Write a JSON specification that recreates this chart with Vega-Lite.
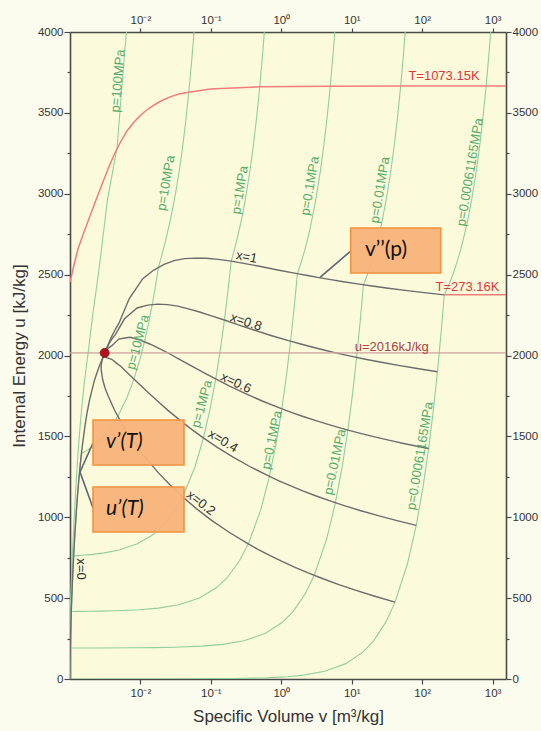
{
  "$schema": "https://vega.github.io/schema/vega-lite/v6.json",
  "width": 436,
  "height": 647,
  "autosize": "none",
  "padding": {"left": 70, "top": 32, "right": 35, "bottom": 52},
  "background": "#fcfcee",
  "config": {
    "font": "Liberation Sans",
    "view": {"fill": "#fbfadb", "stroke": null},
    "axis": {
      "domainColor": "#4a4a4a", "domainWidth": 1.6,
      "tickColor": "#4a4a4a", "tickWidth": 1.2,
      "labelColor": "#333333", "titleColor": "#333333",
      "labelFont": "Liberation Sans", "titleFont": "Liberation Sans",
      "labelFontSize": 11.5, "titleFontSize": 17, "titleFontWeight": "normal",
      "grid": false
    }
  },
  "datasets": {
    "curves": [
      {"c":"p100","k":"iso","v":0.000957,"u":0},{"c":"p100","k":"iso","v":0.000973,"u":200},{"c":"p100","k":"iso","v":0.001002,"u":400},{"c":"p100","k":"iso","v":0.00104,"u":600},{"c":"p100","k":"iso","v":0.00109,"u":800},{"c":"p100","k":"iso","v":0.00115,"u":1005},{"c":"p100","k":"iso","v":0.00122,"u":1210},{"c":"p100","k":"iso","v":0.00131,"u":1418},{"c":"p100","k":"iso","v":0.00143,"u":1627},{"c":"p100","k":"iso","v":0.0016,"u":1836},{"c":"p100","k":"iso","v":0.00183,"u":2034},{"c":"p100","k":"iso","v":0.0021,"u":2250},{"c":"p100","k":"iso","v":0.00246,"u":2467},{"c":"p100","k":"iso","v":0.00268,"u":2590},{"c":"p100","k":"iso","v":0.0034,"u":2961},{"c":"p100","k":"iso","v":0.00468,"u":3291},{"c":"p100","k":"iso","v":0.0054,"u":3640},{"c":"p100","k":"iso","v":0.00633,"u":4000},{"c":"p100","k":"iso","v":0.0066,"u":4150},

      {"c":"p10","k":"iso","v":0.000995,"u":0},{"c":"p10","k":"iso","v":0.000997,"u":83},{"c":"p10","k":"iso","v":0.001003,"u":166},{"c":"p10","k":"iso","v":0.001013,"u":250},{"c":"p10","k":"iso","v":0.001025,"u":333},{"c":"p10","k":"iso","v":0.001039,"u":416},{"c":"p10","k":"iso","v":0.001074,"u":583},{"c":"p10","k":"iso","v":0.00112,"u":754},{"c":"p10","k":"iso","v":0.001148,"u":841},{"c":"p10","k":"iso","v":0.001181,"u":930},{"c":"p10","k":"iso","v":0.001265,"u":1117},{"c":"p10","k":"iso","v":0.001322,"u":1218},{"c":"p10","k":"iso","v":0.001397,"u":1328},{"c":"p10","k":"iso","v":0.001453,"u":1393.3},{"c":"p10","k":"iso","v":0.001619,"u":1404.8},{"c":"p10","k":"iso","v":0.001785,"u":1416.3},{"c":"p10","k":"iso","v":0.00195,"u":1427.9},{"c":"p10","k":"iso","v":0.002282,"u":1450.9},{"c":"p10","k":"iso","v":0.003111,"u":1508.5},{"c":"p10","k":"iso","v":0.004768,"u":1623.7},{"c":"p10","k":"iso","v":0.006426,"u":1738.9},{"c":"p10","k":"iso","v":0.008083,"u":1854.1},{"c":"p10","k":"iso","v":0.009741,"u":1969.3},{"c":"p10","k":"iso","v":0.011398,"u":2084.4},{"c":"p10","k":"iso","v":0.013056,"u":2199.6},{"c":"p10","k":"iso","v":0.014713,"u":2314.8},{"c":"p10","k":"iso","v":0.016371,"u":2430},{"c":"p10","k":"iso","v":0.018028,"u":2545.2},{"c":"p10","k":"iso","v":0.019877,"u":2611.6},{"c":"p10","k":"iso","v":0.02244,"u":2699.6},{"c":"p10","k":"iso","v":0.026436,"u":2833.1},{"c":"p10","k":"iso","v":0.029782,"u":2944.5},{"c":"p10","k":"iso","v":0.032811,"u":3047},{"c":"p10","k":"iso","v":0.035655,"u":3145.4},{"c":"p10","k":"iso","v":0.038378,"u":3242},{"c":"p10","k":"iso","v":0.041018,"u":3338},{"c":"p10","k":"iso","v":0.043597,"u":3434},{"c":"p10","k":"iso","v":0.048629,"u":3628.2},{"c":"p10","k":"iso","v":0.053547,"u":3826.5},{"c":"p10","k":"iso","v":0.058391,"u":4029.9},

      {"c":"p1","k":"iso","v":0.0009997,"u":0},{"c":"p1","k":"iso","v":0.001001,"u":84},{"c":"p1","k":"iso","v":0.001007,"u":167.5},{"c":"p1","k":"iso","v":0.001017,"u":251.1},{"c":"p1","k":"iso","v":0.001029,"u":334.9},{"c":"p1","k":"iso","v":0.001043,"u":419},{"c":"p1","k":"iso","v":0.00106,"u":503.5},{"c":"p1","k":"iso","v":0.00108,"u":588.7},{"c":"p1","k":"iso","v":0.001102,"u":674.6},{"c":"p1","k":"iso","v":0.001127,"u":761.4},{"c":"p1","k":"iso","v":0.001513,"u":765},{"c":"p1","k":"iso","v":0.002093,"u":770.5},{"c":"p1","k":"iso","v":0.003059,"u":779.6},{"c":"p1","k":"iso","v":0.004992,"u":797.8},{"c":"p1","k":"iso","v":0.008856,"u":834.3},{"c":"p1","k":"iso","v":0.014653,"u":888.9},{"c":"p1","k":"iso","v":0.02045,"u":943.5},{"c":"p1","k":"iso","v":0.030112,"u":1034.6},{"c":"p1","k":"iso","v":0.039774,"u":1125.7},{"c":"p1","k":"iso","v":0.059097,"u":1307.8},{"c":"p1","k":"iso","v":0.07842,"u":1490},{"c":"p1","k":"iso","v":0.097744,"u":1672.1},{"c":"p1","k":"iso","v":0.117067,"u":1854.2},{"c":"p1","k":"iso","v":0.13639,"u":2036.4},{"c":"p1","k":"iso","v":0.155713,"u":2218.5},{"c":"p1","k":"iso","v":0.175037,"u":2400.7},{"c":"p1","k":"iso","v":0.19436,"u":2582.8},{"c":"p1","k":"iso","v":0.20602,"u":2622.3},{"c":"p1","k":"iso","v":0.23275,"u":2710.4},{"c":"p1","k":"iso","v":0.25799,"u":2793.7},{"c":"p1","k":"iso","v":0.2825,"u":2875.7},{"c":"p1","k":"iso","v":0.30661,"u":2957.9},{"c":"p1","k":"iso","v":0.35411,"u":3125},{"c":"p1","k":"iso","v":0.40111,"u":3297.5},{"c":"p1","k":"iso","v":0.44783,"u":3476.3},{"c":"p1","k":"iso","v":0.49438,"u":3661.7},{"c":"p1","k":"iso","v":0.54083,"u":3853.9},{"c":"p1","k":"iso","v":0.58721,"u":4052.7},

      {"c":"p01","k":"iso","v":0.001,"u":0},{"c":"p01","k":"iso","v":0.001002,"u":84},{"c":"p01","k":"iso","v":0.001008,"u":167.5},{"c":"p01","k":"iso","v":0.001017,"u":251.1},{"c":"p01","k":"iso","v":0.001029,"u":334.9},{"c":"p01","k":"iso","v":0.001043,"u":417.4},{"c":"p01","k":"iso","v":0.001382,"u":417.8},{"c":"p01","k":"iso","v":0.00189,"u":418.4},{"c":"p01","k":"iso","v":0.002736,"u":419.5},{"c":"p01","k":"iso","v":0.004429,"u":421.6},{"c":"p01","k":"iso","v":0.009508,"u":427.8},{"c":"p01","k":"iso","v":0.017974,"u":438.3},{"c":"p01","k":"iso","v":0.034904,"u":459.2},{"c":"p01","k":"iso","v":0.068765,"u":500.9},{"c":"p01","k":"iso","v":0.119557,"u":563.6},{"c":"p01","k":"iso","v":0.170349,"u":626.2},{"c":"p01","k":"iso","v":0.255002,"u":730.6},{"c":"p01","k":"iso","v":0.339654,"u":835},{"c":"p01","k":"iso","v":0.50896,"u":1043.9},{"c":"p01","k":"iso","v":0.678266,"u":1252.7},{"c":"p01","k":"iso","v":0.847572,"u":1461.5},{"c":"p01","k":"iso","v":1.016877,"u":1670.3},{"c":"p01","k":"iso","v":1.186183,"u":1879.1},{"c":"p01","k":"iso","v":1.355489,"u":2088},{"c":"p01","k":"iso","v":1.524794,"u":2296.8},{"c":"p01","k":"iso","v":1.6941,"u":2505.6},{"c":"p01","k":"iso","v":1.9367,"u":2582.9},{"c":"p01","k":"iso","v":2.1724,"u":2658.2},{"c":"p01","k":"iso","v":2.4062,"u":2733.9},{"c":"p01","k":"iso","v":2.6389,"u":2810.7},{"c":"p01","k":"iso","v":3.1027,"u":2968.3},{"c":"p01","k":"iso","v":3.5655,"u":3132.2},{"c":"p01","k":"iso","v":4.0279,"u":3302.8},{"c":"p01","k":"iso","v":4.49,"u":3480.4},{"c":"p01","k":"iso","v":4.9522,"u":3665},{"c":"p01","k":"iso","v":5.4142,"u":3856.7},{"c":"p01","k":"iso","v":5.8762,"u":4055},

      {"c":"p001","k":"iso","v":0.001,"u":0},{"c":"p001","k":"iso","v":0.001002,"u":84},{"c":"p001","k":"iso","v":0.001008,"u":167.5},{"c":"p001","k":"iso","v":0.00101,"u":191.8},{"c":"p001","k":"iso","v":0.001303,"u":191.8},{"c":"p001","k":"iso","v":0.002477,"u":192},{"c":"p001","k":"iso","v":0.008344,"u":192.9},{"c":"p001","k":"iso","v":0.015679,"u":194},{"c":"p001","k":"iso","v":0.030348,"u":196.3},{"c":"p001","k":"iso","v":0.074355,"u":203},{"c":"p001","k":"iso","v":0.1477,"u":214.2},{"c":"p001","k":"iso","v":0.29439,"u":236.7},{"c":"p001","k":"iso","v":0.58777,"u":281.6},{"c":"p001","k":"iso","v":1.027839,"u":349},{"c":"p001","k":"iso","v":1.467909,"u":416.3},{"c":"p001","k":"iso","v":2.201359,"u":528.6},{"c":"p001","k":"iso","v":2.934808,"u":640.9},{"c":"p001","k":"iso","v":4.401707,"u":865.4},{"c":"p001","k":"iso","v":5.868606,"u":1089.9},{"c":"p001","k":"iso","v":7.335505,"u":1314.5},{"c":"p001","k":"iso","v":8.802404,"u":1539},{"c":"p001","k":"iso","v":10.269303,"u":1763.6},{"c":"p001","k":"iso","v":11.736202,"u":1988.1},{"c":"p001","k":"iso","v":13.203101,"u":2212.7},{"c":"p001","k":"iso","v":14.67,"u":2437.2},{"c":"p001","k":"iso","v":14.867,"u":2443.3},{"c":"p001","k":"iso","v":17.196,"u":2515.5},{"c":"p001","k":"iso","v":19.513,"u":2587.9},{"c":"p001","k":"iso","v":21.826,"u":2661.4},{"c":"p001","k":"iso","v":24.136,"u":2736.1},{"c":"p001","k":"iso","v":26.446,"u":2812.3},{"c":"p001","k":"iso","v":31.063,"u":2969.3},{"c":"p001","k":"iso","v":35.68,"u":3132.9},{"c":"p001","k":"iso","v":40.296,"u":3303.3},{"c":"p001","k":"iso","v":44.911,"u":3480.8},{"c":"p001","k":"iso","v":49.527,"u":3665.4},{"c":"p001","k":"iso","v":54.143,"u":3856.9},{"c":"p001","k":"iso","v":58.758,"u":4055.3},

      {"c":"ptp","k":"iso","v":0.001,"u":0},{"c":"ptp","k":"iso","v":0.00306,"u":0.02},{"c":"ptp","k":"iso","v":0.0216,"u":0.24},{"c":"ptp","k":"iso","v":0.207,"u":2.37},{"c":"ptp","k":"iso","v":0.619,"u":7.12},{"c":"ptp","k":"iso","v":1.2369,"u":14.25},{"c":"ptp","k":"iso","v":2.0609,"u":23.75},{"c":"ptp","k":"iso","v":4.1208,"u":47.5},{"c":"ptp","k":"iso","v":8.2406,"u":95},{"c":"ptp","k":"iso","v":14.4202,"u":166.2},{"c":"ptp","k":"iso","v":20.5999,"u":237.5},{"c":"ptp","k":"iso","v":30.8994,"u":356.2},{"c":"ptp","k":"iso","v":41.1988,"u":475},{"c":"ptp","k":"iso","v":61.7977,"u":712.5},{"c":"ptp","k":"iso","v":82.3966,"u":950},{"c":"ptp","k":"iso","v":102.9955,"u":1187.5},{"c":"ptp","k":"iso","v":123.5944,"u":1424.9},{"c":"ptp","k":"iso","v":144.1933,"u":1662.4},{"c":"ptp","k":"iso","v":164.7922,"u":1899.9},{"c":"ptp","k":"iso","v":185.3911,"u":2137.4},{"c":"ptp","k":"iso","v":205.99,"u":2374.9},{"c":"ptp","k":"iso","v":243.8,"u":2443.5},{"c":"ptp","k":"iso","v":281.6,"u":2515.8},{"c":"ptp","k":"iso","v":357,"u":2661.7},{"c":"ptp","k":"iso","v":432.4,"u":2812.5},{"c":"ptp","k":"iso","v":507.9,"u":2969.5},{"c":"ptp","k":"iso","v":583.4,"u":3133},{"c":"ptp","k":"iso","v":658.8,"u":3303.4},{"c":"ptp","k":"iso","v":734.3,"u":3480.9},{"c":"ptp","k":"iso","v":809.7,"u":3665.5},{"c":"ptp","k":"iso","v":885.2,"u":3857},{"c":"ptp","k":"iso","v":960.6,"u":4055.4},

      {"c":"x0","k":"q","v":0.001,"u":0},{"c":"x0","k":"q","v":0.001,"u":42.02},{"c":"x0","k":"q","v":0.001002,"u":83.91},{"c":"x0","k":"q","v":0.001008,"u":167.53},{"c":"x0","k":"q","v":0.001017,"u":251.16},{"c":"x0","k":"q","v":0.001029,"u":334.97},{"c":"x0","k":"q","v":0.001043,"u":419.06},{"c":"x0","k":"q","v":0.00106,"u":503.6},{"c":"x0","k":"q","v":0.00108,"u":588.77},{"c":"x0","k":"q","v":0.001102,"u":674.79},{"c":"x0","k":"q","v":0.001127,"u":761.92},{"c":"x0","k":"q","v":0.001157,"u":850.46},{"c":"x0","k":"q","v":0.00119,"u":940.75},{"c":"x0","k":"q","v":0.001229,"u":1033.1},{"c":"x0","k":"q","v":0.001276,"u":1128.5},{"c":"x0","k":"q","v":0.001332,"u":1227.5},{"c":"x0","k":"q","v":0.001404,"u":1332.7},{"c":"x0","k":"q","v":0.001499,"u":1444.4},{"c":"x0","k":"q","v":0.001638,"u":1569.7},{"c":"x0","k":"q","v":0.001741,"u":1642.4},{"c":"x0","k":"q","v":0.001895,"u":1726.2},{"c":"x0","k":"q","v":0.002217,"u":1844.5},{"c":"x0","k":"q","v":0.002358,"u":1880},{"c":"x0","k":"q","v":0.002597,"u":1932},{"c":"x0","k":"q","v":0.003106,"u":2016},

      {"c":"x02","k":"q","v":41.1988,"u":474.98},{"c":"x02","k":"q","v":21.2648,"u":511.36},{"c":"x02","k":"q","v":11.5532,"u":547.61},{"c":"x02","k":"q","v":6.5766,"u":583.78},{"c":"x02","k":"q","v":3.9038,"u":619.9},{"c":"x02","k":"q","v":2.406,"u":656},{"c":"x02","k":"q","v":1.53425,"u":692.11},{"c":"x02","k":"q","v":1.00872,"u":728.2},{"c":"x02","k":"q","v":0.68188,"u":764.32},{"c":"x02","k":"q","v":0.47269,"u":800.44},{"c":"x02","k":"q","v":0.33523,"u":836.45},{"c":"x02","k":"q","v":0.179114,"u":908.66},{"c":"x02","k":"q","v":0.102564,"u":981.02},{"c":"x02","k":"q","v":0.062242,"u":1053.49},{"c":"x02","k":"q","v":0.03967,"u":1126.28},{"c":"x02","k":"q","v":0.026368,"u":1199.21},{"c":"x02","k":"q","v":0.01817,"u":1272.86},{"c":"x02","k":"q","v":0.012923,"u":1346.9},{"c":"x02","k":"q","v":0.009461,"u":1422.62},{"c":"x02","k":"q","v":0.0071,"u":1499.26},{"c":"x02","k":"q","v":0.005455,"u":1578.88},{"c":"x02","k":"q","v":0.004297,"u":1661.22},{"c":"x02","k":"q","v":0.00347,"u":1750.74},{"c":"x02","k":"q","v":0.003154,"u":1797.58},{"c":"x02","k":"q","v":0.002906,"u":1851.34},{"c":"x02","k":"q","v":0.002764,"u":1915.6},{"c":"x02","k":"q","v":0.002767,"u":1936.4},{"c":"x02","k":"q","v":0.002837,"u":1966.8},{"c":"x02","k":"q","v":0.003106,"u":2016},

      {"c":"x04","k":"q","v":82.3966,"u":949.96},{"c":"x04","k":"q","v":42.5286,"u":980.69},{"c":"x04","k":"q","v":23.1054,"u":1011.31},{"c":"x04","k":"q","v":13.1522,"u":1041.84},{"c":"x04","k":"q","v":7.8066,"u":1072.28},{"c":"x04","k":"q","v":4.811,"u":1102.68},{"c":"x04","k":"q","v":3.06749,"u":1133.06},{"c":"x04","k":"q","v":2.01641,"u":1163.38},{"c":"x04","k":"q","v":1.36274,"u":1193.66},{"c":"x04","k":"q","v":0.94434,"u":1223.9},{"c":"x04","k":"q","v":0.66943,"u":1253.84},{"c":"x04","k":"q","v":0.357168,"u":1313.72},{"c":"x04","k":"q","v":0.204048,"u":1373.26},{"c":"x04","k":"q","v":0.123381,"u":1432.19},{"c":"x04","k":"q","v":0.078212,"u":1490.63},{"c":"x04","k":"q","v":0.051578,"u":1547.96},{"c":"x04","k":"q","v":0.03515,"u":1604.97},{"c":"x04","k":"q","v":0.024617,"u":1660.7},{"c":"x04","k":"q","v":0.017646,"u":1716.74},{"c":"x04","k":"q","v":0.012867,"u":1771.02},{"c":"x04","k":"q","v":0.009506,"u":1825.06},{"c":"x04","k":"q","v":0.007095,"u":1878.04},{"c":"x04","k":"q","v":0.005303,"u":1931.78},{"c":"x04","k":"q","v":0.004567,"u":1952.76},{"c":"x04","k":"q","v":0.003917,"u":1976.48},{"c":"x04","k":"q","v":0.003311,"u":1986.7},{"c":"x04","k":"q","v":0.003177,"u":1992.8},{"c":"x04","k":"q","v":0.003077,"u":2001.6},{"c":"x04","k":"q","v":0.003106,"u":2016},

      {"c":"x06","k":"q","v":123.5944,"u":1424.94},{"c":"x06","k":"q","v":63.7924,"u":1450.03},{"c":"x06","k":"q","v":34.6576,"u":1475},{"c":"x06","k":"q","v":19.7278,"u":1499.89},{"c":"x06","k":"q","v":11.7094,"u":1524.65},{"c":"x06","k":"q","v":7.216,"u":1549.35},{"c":"x06","k":"q","v":4.60073,"u":1574},{"c":"x06","k":"q","v":3.02411,"u":1598.55},{"c":"x06","k":"q","v":2.04359,"u":1623.01},{"c":"x06","k":"q","v":1.41599,"u":1647.37},{"c":"x06","k":"q","v":1.00362,"u":1671.22},{"c":"x06","k":"q","v":0.535222,"u":1718.78},{"c":"x06","k":"q","v":0.305532,"u":1765.51},{"c":"x06","k":"q","v":0.184521,"u":1810.9},{"c":"x06","k":"q","v":0.116755,"u":1854.99},{"c":"x06","k":"q","v":0.076789,"u":1896.7},{"c":"x06","k":"q","v":0.05213,"u":1937.08},{"c":"x06","k":"q","v":0.036312,"u":1974.5},{"c":"x06","k":"q","v":0.02583,"u":2010.86},{"c":"x06","k":"q","v":0.018635,"u":2042.78},{"c":"x06","k":"q","v":0.013558,"u":2071.24},{"c":"x06","k":"q","v":0.009894,"u":2094.86},{"c":"x06","k":"q","v":0.007135,"u":2112.82},{"c":"x06","k":"q","v":0.00598,"u":2107.94},{"c":"x06","k":"q","v":0.004928,"u":2101.62},{"c":"x06","k":"q","v":0.003859,"u":2057.8},{"c":"x06","k":"q","v":0.003586,"u":2049.2},{"c":"x06","k":"q","v":0.003317,"u":2036.4},{"c":"x06","k":"q","v":0.003106,"u":2016},

      {"c":"x08","k":"q","v":164.7922,"u":1899.92},{"c":"x08","k":"q","v":85.0562,"u":1919.36},{"c":"x08","k":"q","v":46.2098,"u":1938.7},{"c":"x08","k":"q","v":26.3034,"u":1957.95},{"c":"x08","k":"q","v":15.6122,"u":1977.03},{"c":"x08","k":"q","v":9.621,"u":1996.03},{"c":"x08","k":"q","v":6.13396,"u":2014.95},{"c":"x08","k":"q","v":4.0318,"u":2033.73},{"c":"x08","k":"q","v":2.72445,"u":2052.35},{"c":"x08","k":"q","v":1.88765,"u":2070.83},{"c":"x08","k":"q","v":1.33781,"u":2088.61},{"c":"x08","k":"q","v":0.713276,"u":2123.84},{"c":"x08","k":"q","v":0.407016,"u":2157.75},{"c":"x08","k":"q","v":0.24566,"u":2189.6},{"c":"x08","k":"q","v":0.155297,"u":2219.34},{"c":"x08","k":"q","v":0.101999,"u":2245.45},{"c":"x08","k":"q","v":0.06911,"u":2269.19},{"c":"x08","k":"q","v":0.048006,"u":2288.3},{"c":"x08","k":"q","v":0.034015,"u":2304.98},{"c":"x08","k":"q","v":0.024402,"u":2314.54},{"c":"x08","k":"q","v":0.017609,"u":2317.42},{"c":"x08","k":"q","v":0.012692,"u":2311.68},{"c":"x08","k":"q","v":0.008968,"u":2293.86},{"c":"x08","k":"q","v":0.007393,"u":2263.12},{"c":"x08","k":"q","v":0.005939,"u":2226.76},{"c":"x08","k":"q","v":0.004406,"u":2128.9},{"c":"x08","k":"q","v":0.003996,"u":2105.6},{"c":"x08","k":"q","v":0.003557,"u":2071.2},{"c":"x08","k":"q","v":0.003106,"u":2016},

      {"c":"x1","k":"q","v":205.99,"u":2374.9},{"c":"x1","k":"q","v":106.32,"u":2388.7},{"c":"x1","k":"q","v":57.762,"u":2402.4},{"c":"x1","k":"q","v":32.879,"u":2416},{"c":"x1","k":"q","v":19.515,"u":2429.4},{"c":"x1","k":"q","v":12.026,"u":2442.7},{"c":"x1","k":"q","v":7.6672,"u":2455.9},{"c":"x1","k":"q","v":5.0395,"u":2468.9},{"c":"x1","k":"q","v":3.4053,"u":2481.7},{"c":"x1","k":"q","v":2.3593,"u":2494.3},{"c":"x1","k":"q","v":1.672,"u":2506},{"c":"x1","k":"q","v":0.89133,"u":2528.9},{"c":"x1","k":"q","v":0.5085,"u":2550},{"c":"x1","k":"q","v":0.3068,"u":2568.3},{"c":"x1","k":"q","v":0.19384,"u":2583.7},{"c":"x1","k":"q","v":0.12721,"u":2594.2},{"c":"x1","k":"q","v":0.08609,"u":2601.3},{"c":"x1","k":"q","v":0.0597,"u":2602.1},{"c":"x1","k":"q","v":0.0422,"u":2599.1},{"c":"x1","k":"q","v":0.03017,"u":2586.3},{"c":"x1","k":"q","v":0.02166,"u":2563.6},{"c":"x1","k":"q","v":0.01549,"u":2528.5},{"c":"x1","k":"q","v":0.0108,"u":2474.9},{"c":"x1","k":"q","v":0.008806,"u":2418.3},{"c":"x1","k":"q","v":0.00695,"u":2351.9},{"c":"x1","k":"q","v":0.004953,"u":2200},{"c":"x1","k":"q","v":0.004405,"u":2162},{"c":"x1","k":"q","v":0.003797,"u":2106},{"c":"x1","k":"q","v":0.003106,"u":2016},

      {"c":"T1073","k":"T","v":0.001,"u":2454},{"c":"T1073","k":"T","v":0.0011396,"u":2559.5},{"c":"T1073","k":"T","v":0.0012987,"u":2658.4},{"c":"T1073","k":"T","v":0.0015806,"u":2763.5},{"c":"T1073","k":"T","v":0.0019231,"u":2862.5},{"c":"T1073","k":"T","v":0.0023391,"u":2961.4},{"c":"T1073","k":"T","v":0.0028461,"u":3057.2},{"c":"T1073","k":"T","v":0.0034633,"u":3153},{"c":"T1073","k":"T","v":0.004214,"u":3239.6},{"c":"T1073","k":"T","v":0.0051279,"u":3313.8},{"c":"T1073","k":"T","v":0.0064447,"u":3388},{"c":"T1073","k":"T","v":0.0081016,"u":3443.6},{"c":"T1073","k":"T","v":0.010527,"u":3493.1},{"c":"T1073","k":"T","v":0.013673,"u":3533.2},{"c":"T1073","k":"T","v":0.018962,"u":3570.3},{"c":"T1073","k":"T","v":0.026295,"u":3599},{"c":"T1073","k":"T","v":0.036462,"u":3618},{"c":"T1073","k":"T","v":0.048629,"u":3628.2},{"c":"T1073","k":"T","v":0.0986,"u":3646.9},{"c":"T1073","k":"T","v":0.49438,"u":3661.7},{"c":"T1073","k":"T","v":4.9522,"u":3665},{"c":"T1073","k":"T","v":49.527,"u":3665.4},{"c":"T1073","k":"T","v":809.7,"u":3665.5},{"c":"T1073","k":"T","v":1550,"u":3665.6},

      {"c":"T273","k":"T","v":205.99,"u":2374.9},{"c":"T273","k":"T","v":1550,"u":2374.9},

      {"c":"u2016","k":"u","v":0.001,"u":2016},{"c":"u2016","k":"u","v":1550,"u":2016}
    ],
    "labels": [
      {"t":"p=100MPa","g":"iso85","v":0.0048,"u":3697},
      {"t":"p=10MPa","g":"iso80","v":0.02307,"u":3066},
      {"t":"p=1MPa","g":"iso80","v":0.2593,"u":3023},
      {"t":"p=0.1MPa","g":"iso80","v":2.557,"u":3048},
      {"t":"p=0.01MPa","g":"iso80","v":25.21,"u":3023},
      {"t":"p=0.00061165MPa","g":"iso80","v":478,"u":3134},
      {"t":"p=10MPa","g":"iso75","v":0.009236,"u":2083},
      {"t":"p=1MPa","g":"iso75","v":0.07483,"u":1700},
      {"t":"p=0.1MPa","g":"iso78","v":0.7381,"u":1478},
      {"t":"p=0.01MPa","g":"iso78","v":5.789,"u":1342},
      {"t":"p=0.00061165MPa","g":"iso80","v":93.2,"u":1379},
      {"t":"x=1","g":"q1","v":0.3228,"u":2609},
      {"t":"x=0.8","g":"q08","v":0.3155,"u":2207},
      {"t":"x=0.6","g":"q06","v":0.2275,"u":1830},
      {"t":"x=0.4","g":"q04","v":0.1487,"u":1471},
      {"t":"x=0.2","g":"q02","v":0.07244,"u":1088},
      {"t":"x=0","g":"q0","v":0.001433,"u":680},
      {"t":"T=1073.15K","g":"T","v":204,"u":3728},
      {"t":"T=273.16K","g":"T","v":440,"u":2425},
      {"t":"u=2016kJ/kg","g":"u","v":36.95,"u":2054}
    ],
    "boxes": [
      {"b":"vpp","v":9.674,"v2":183.4,"u":2788,"u2":2510},
      {"b":"vp","v":0.002121,"v2":0.04155,"u":1601,"u2":1323},
      {"b":"up","v":0.002121,"v2":0.04155,"u":1187,"u2":909}
    ],
    "boxtext": [
      {"t":"v’’(p)","s":"upright","v":15.44,"u":2652},
      {"t":"v’(T)","s":"slant","v":0.003244,"u":1465},
      {"t":"u’(T)","s":"slant","v":0.003244,"u":1051}
    ],
    "pointers": [
      {"v":9.455,"u":2642,"v2":3.546,"u2":2483},
      {"v":0.002121,"u":1459,"v2":0.001387,"u2":1280},
      {"v":0.001387,"u":1280,"v2":0.002121,"u2":1057}
    ],
    "critical": [{"v":0.003106,"u":2016}]
  },
  "layer": [
    {
      "data": {"name": "curves"},
      "mark": {"type": "line", "clip": true},
      "encoding": {
        "x": {
          "field": "v", "type": "quantitative",
          "scale": {"type": "log", "domain": [0.001, 1550], "nice": false},
          "axis": {
            "orient": "bottom",
            "values": [0.01, 0.1, 1, 10, 100, 1000],
            "labelExpr": "['10⁻³','10⁻²','10⁻¹','10⁰','10¹','10²','10³'][round(log(datum.value)/LN10)+3]",
            "tickSize": 5, "labelPadding": 3,
            "title": "Specific Volume v [m³/kg]", "titlePadding": 10
          }
        },
        "y": {
          "field": "u", "type": "quantitative",
          "scale": {"domain": [0, 4000], "nice": false},
          "axis": {
            "orient": "left",
            "values": [0,250,500,750,1000,1250,1500,1750,2000,2250,2500,2750,3000,3250,3500,3750,4000],
            "format": "d",
            "labelExpr": "datum.value % 500 == 0 ? datum.label : ''",
            "tickSize": {"condition": {"test": "datum.value % 500 == 0", "value": 6}, "value": 3},
            "labelPadding": 1,
            "title": "Internal Energy u [kJ/kg]", "titlePadding": 9
          }
        },
        "detail": {"field": "c"},
        "order": {"value": null},
        "color": {
          "field": "k", "type": "nominal", "legend": null,
          "scale": {"domain": ["iso", "q", "T", "u"], "range": ["#93ce9e", "#6c6c6c", "#f07c7c", "#cfa29e"]}
        },
        "strokeWidth": {
          "field": "k", "type": "nominal", "legend": null,
          "scale": {"type": "ordinal", "domain": ["iso", "q", "T", "u"], "range": [1.1, 1.4, 1.5, 1.1]}
        }
      }
    },
    {
      "data": {"name": "critical"},
      "mark": {"type": "point", "filled": true, "color": "#b5121c", "size": 80, "stroke": "#7a0a10", "strokeWidth": 0.8, "opacity": 1},
      "encoding": {
        "x": {"field": "v", "type": "quantitative", "axis": null},
        "y": {"field": "u", "type": "quantitative", "axis": null}
      }
    },
    {
      "data": {"name": "labels"},
      "mark": {"type": "text", "fontSize": 13, "font": "Liberation Sans", "align": "center", "baseline": "middle"},
      "encoding": {
        "x": {"field": "v", "type": "quantitative", "axis": null},
        "y": {"field": "u", "type": "quantitative", "axis": null},
        "text": {"field": "t"},
        "angle": {
          "field": "g", "type": "nominal", "legend": null,
          "scale": {"type": "ordinal",
            "domain": ["iso85", "iso80", "iso78", "iso75", "q1", "q08", "q06", "q04", "q02", "q0", "T", "u"],
            "range": [-85, -80.5, -78, -75, 11, 18.5, 25, 31, 37.5, 90, 0, 0]}
        },
        "color": {
          "field": "g", "type": "nominal", "legend": null,
          "scale": {
            "domain": ["iso85", "iso80", "iso78", "iso75", "q1", "q08", "q06", "q04", "q02", "q0", "T", "u"],
            "range": ["#55ab6b", "#55ab6b", "#55ab6b", "#55ab6b", "#303030", "#303030", "#303030", "#303030", "#303030", "#303030", "#e0363a", "#a94545"]
          }
        }
      }
    },
    {
      "data": {"name": "pointers"},
      "mark": {"type": "rule", "color": "#5b6577", "strokeWidth": 1.6},
      "encoding": {
        "x": {"field": "v", "type": "quantitative", "axis": null},
        "y": {"field": "u", "type": "quantitative", "axis": null},
        "x2": {"field": "v2"},
        "y2": {"field": "u2"}
      }
    },
    {
      "data": {"name": "boxes"},
      "mark": {"type": "rect", "fill": "#f8b37a", "stroke": "#f2923f", "strokeWidth": 1.6, "fillOpacity": 0.95},
      "encoding": {
        "x": {"field": "v", "type": "quantitative", "axis": null},
        "y": {"field": "u", "type": "quantitative", "axis": null},
        "x2": {"field": "v2"},
        "y2": {"field": "u2"}
      }
    },
    {
      "data": {"name": "boxtext"},
      "transform": [{"filter": "datum.s == 'slant'"}],
      "mark": {"type": "text", "font": "Lato", "fontSize": 21, "fontStyle": "italic", "align": "left", "baseline": "middle", "color": "#111111"},
      "encoding": {
        "x": {"field": "v", "type": "quantitative", "axis": null},
        "y": {"field": "u", "type": "quantitative", "axis": null},
        "text": {"field": "t"}
      }
    },
    {
      "data": {"name": "boxtext"},
      "transform": [{"filter": "datum.s == 'upright'"}],
      "mark": {"type": "text", "font": "Lato", "fontSize": 21, "align": "left", "baseline": "middle", "color": "#111111"},
      "encoding": {
        "x": {"field": "v", "type": "quantitative", "axis": null},
        "y": {"field": "u", "type": "quantitative", "axis": null},
        "text": {"field": "t"}
      }
    },
    {
      "data": {"values": [{"v": 0.01, "u": 0}]},
      "mark": {"type": "point", "opacity": 0},
      "encoding": {
        "x": {
          "field": "v", "type": "quantitative",
          "scale": {"type": "log", "domain": [0.001, 1550], "nice": false},
          "axis": {
            "orient": "top",
            "values": [0.01, 0.1, 1, 10, 100, 1000],
            "labelExpr": "['10⁻³','10⁻²','10⁻¹','10⁰','10¹','10²','10³'][round(log(datum.value)/LN10)+3]",
            "tickSize": 4, "labelPadding": 3, "title": null
          }
        },
        "y": {
          "field": "u", "type": "quantitative",
          "scale": {"domain": [0, 4000], "nice": false},
          "axis": {
            "orient": "right",
            "values": [0,250,500,750,1000,1250,1500,1750,2000,2250,2500,2750,3000,3250,3500,3750,4000],
            "format": "d",
            "labelExpr": "datum.value % 500 == 0 ? datum.label : ''",
            "tickSize": {"condition": {"test": "datum.value % 500 == 0", "value": 5}, "value": 3},
            "labelPadding": 1,
            "title": null
          }
        }
      }
    }
  ],
  "resolve": {
    "axis": {"x": "independent", "y": "independent"},
    "scale": {"color": "independent", "strokeWidth": "independent", "angle": "independent"}
  }
}
